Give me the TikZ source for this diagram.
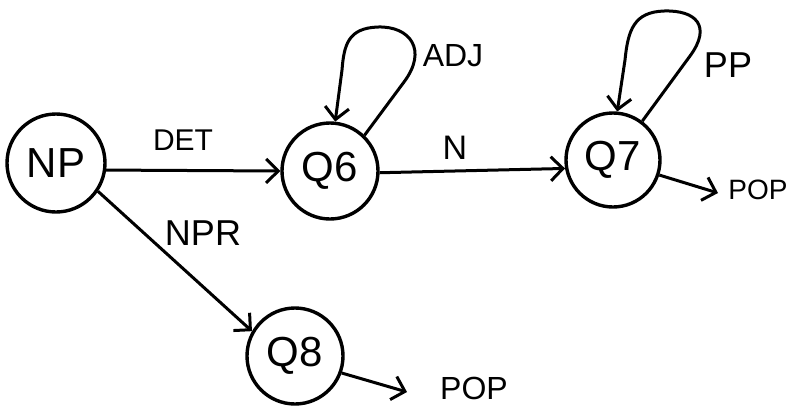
\documentclass[tikz,border=0pt]{standalone}
\usepackage{fontspec}
\setmainfont{Liberation Sans}
\usetikzlibrary{arrows.meta}
\tikzset{
  state/.style={circle, draw, line width=3.4pt, inner sep=0pt, font=\fontsize{42}{42}\selectfont},
  edge/.style={line width=3pt, -{Straight Barb[length=12pt,width=24pt,line width=3pt]}},
  lbl/.style={inner sep=0pt, font=\fontsize{30}{30}\selectfont},
}
\begin{document}
\begin{tikzpicture}[x=1pt,y=-1pt]
  \useasboundingbox (0,0) rectangle (788,408);

  % states
  \node[state, minimum size=98pt] (np) at (56,163) {NP};
  \node[state, minimum size=96pt] (q6) at (330,171) {Q6};
  \node[state, minimum size=94pt] (q7) at (613,160) {Q7};
  \node[state, minimum size=96pt] (q8) at (295,356) {Q8};

  % free ends of the pop transitions
  \coordinate (pop7) at (718,193);
  \coordinate (pop8) at (407,392);

  % transitions
  \draw[edge] (np.-8) -- (q6.180);
  \draw[edge] (q6.-2) -- (q7.190);
  \draw[edge] (np.-34) -- (q8.150);
  \draw[edge] (q7.-18) -- (pop7);
  \draw[edge] (q8.-20) -- (pop8);

  % self loops
  \draw[edge] (q6.46) -- (404,82) .. controls (428,50) and (410,26) .. (378,27)
    .. controls (348,28) and (344,45) .. (342,70) -- (q6.84);
  \draw[edge] (q7.53) -- (690,56) .. controls (712,26) and (696,10) .. (664,11)
    .. controls (634,12) and (628,30) .. (625,60) -- (q7.85);

  % labels
  \node[lbl] (ldet) at (183,140) {DET};
  \node[lbl, font=\fontsize{32}{32}\selectfont] (ladj) at (453,56) {ADJ};
  \node[lbl, font=\fontsize{34}{34}\selectfont] (ln) at (455,148) {N};
  \node[lbl, font=\fontsize{36}{36}\selectfont] (lpp) at (728,65) {PP};
  \node[lbl, font=\fontsize{28}{28}\selectfont] (lpop7) at (758,190) {POP};
  \node[lbl, font=\fontsize{36}{36}\selectfont] (lnpr) at (203,233) {NPR};
  \node[lbl, font=\fontsize{32}{32}\selectfont] (lpop8) at (474,388) {POP};
\end{tikzpicture}
\end{document}
